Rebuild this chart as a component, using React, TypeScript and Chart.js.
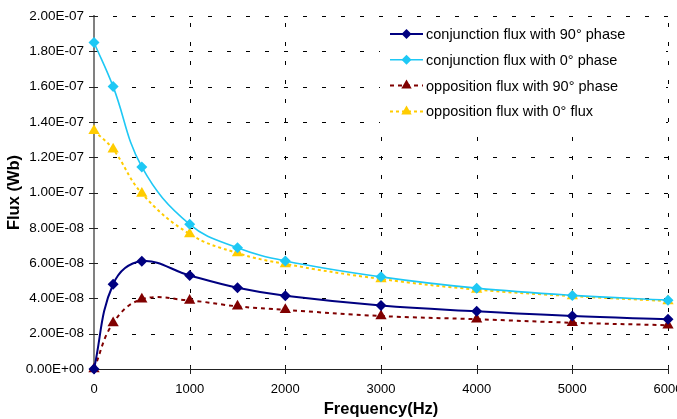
import React, { useEffect, useRef } from 'react';
import { Chart, registerables } from 'chart.js';

Chart.register(...registerables);

const frequencies = [0, 200, 500, 1000, 1500, 2000, 3000, 4000, 5000, 6000];
const conj90 = [0, 4.8e-8, 6.1e-8, 5.3e-8, 4.6e-8, 4.15e-8, 3.6e-8, 3.27e-8, 3.0e-8, 2.82e-8];
const conj0 = [1.85e-7, 1.6e-7, 1.145e-7, 8.2e-8, 6.87e-8, 6.12e-8, 5.22e-8, 4.58e-8, 4.17e-8, 3.9e-8];
const opp90 = [0, 2.6e-8, 3.95e-8, 3.88e-8, 3.55e-8, 3.35e-8, 3.0e-8, 2.82e-8, 2.62e-8, 2.48e-8];
const opp0 = [1.35e-7, 1.245e-7, 9.95e-8, 7.65e-8, 6.57e-8, 5.95e-8, 5.1e-8, 4.5e-8, 4.13e-8, 3.85e-8];

const seriesLabels = [
  'conjunction flux with 90° phase',
  'conjunction flux with 0° phase',
  'opposition flux with 90° phase',
  'opposition flux with 0° flux',
];
const xTicks = [0, 1000, 2000, 3000, 4000, 5000, 6000];
const yTicks = [0, 2e-8, 4e-8, 6e-8, 8e-8, 1e-7, 1.2e-7, 1.4e-7, 1.6e-7, 1.8e-7, 2e-7];
const xTitle = 'Frequency(Hz)';
const yTitle = 'Flux (Wb)';

const FONT = '"Liberation Sans", Arial, sans-serif';

function fmtExp(v: number): string {
  if (Math.abs(v) < 1e-15) return '0.00E+00';
  const [m, e] = v.toExponential(2).split('e');
  const n = parseInt(e, 10);
  return m + 'E' + (n < 0 ? '-' : '+') + String(Math.abs(n)).padStart(2, '0');
}

function drawMarker(ctx: CanvasRenderingContext2D, style: string, x: number, y: number, color: string) {
  ctx.beginPath();
  if (style === 'rectRot') {
    const r = 5;
    ctx.moveTo(x, y - r);
    ctx.lineTo(x + r, y);
    ctx.lineTo(x, y + r);
    ctx.lineTo(x - r, y);
  } else {
    const r = 6;
    const s = r * Math.sin(Math.PI / 3);
    ctx.moveTo(x, y - r);
    ctx.lineTo(x + s, y + r / 2);
    ctx.lineTo(x - s, y + r / 2);
  }
  ctx.closePath();
  ctx.fillStyle = color;
  ctx.fill();
}

// dashed grid + crossing tick marks, positioned through the chart's own scales
const dashedGrid = {
  id: 'dashedGrid',
  beforeDatasetsDraw(chart: any) {
    const ctx: CanvasRenderingContext2D = chart.ctx;
    const a = chart.chartArea;
    const xs = chart.scales.x;
    const ys = chart.scales.y;
    ctx.save();
    ctx.lineWidth = 1;
    ctx.strokeStyle = '#000';
    ctx.setLineDash([4, 15]);
    xs.ticks.forEach((t: any) => {
      const px = Math.round(xs.getPixelForValue(t.value)) + 0.5;
      if (px <= a.left + 2) return;
      ctx.beginPath();
      ctx.moveTo(px, a.bottom);
      ctx.lineTo(px, a.top);
      ctx.stroke();
    });
    ys.ticks.forEach((t: any) => {
      const py = Math.round(ys.getPixelForValue(t.value)) + 0.5;
      if (py >= a.bottom - 2) return;
      ctx.beginPath();
      ctx.moveTo(a.left, py);
      ctx.lineTo(a.right, py);
      ctx.stroke();
    });
    ctx.setLineDash([]);
    ctx.strokeStyle = '#222';
    xs.ticks.forEach((t: any) => {
      const px = Math.round(xs.getPixelForValue(t.value)) + 0.5;
      ctx.beginPath();
      ctx.moveTo(px, a.bottom - 3);
      ctx.lineTo(px, a.bottom + 5);
      ctx.stroke();
    });
    ys.ticks.forEach((t: any) => {
      const py = Math.round(ys.getPixelForValue(t.value)) + 0.5;
      ctx.beginPath();
      ctx.moveTo(a.left - 5, py);
      ctx.lineTo(a.left + 4, py);
      ctx.stroke();
    });
    ctx.restore();
  },
};

const insideLegend = {
  id: 'insideLegend',
  afterDraw(chart: any) {
    const ctx: CanvasRenderingContext2D = chart.ctx;
    const area = chart.chartArea;
    const boxX = area.right - 288;
    const boxY = area.top + 3;
    ctx.save();
    ctx.fillStyle = '#ffffff';
    ctx.fillRect(boxX, boxY, 286, 110);
    chart.data.datasets.forEach((ds: any, i: number) => {
      const y = boxY + 15 + i * 25.8;
      const x0 = boxX + 10;
      const x1 = boxX + 43;
      ctx.save();
      ctx.strokeStyle = ds.borderColor;
      ctx.lineWidth = ds.borderWidth;
      ctx.setLineDash(ds.borderDash || []);
      ctx.beginPath();
      ctx.moveTo(x0, y);
      ctx.lineTo(x1, y);
      ctx.stroke();
      ctx.restore();
      drawMarker(ctx, ds.pointStyle, (x0 + x1) / 2, y, ds.pointBackgroundColor);
      ctx.fillStyle = '#000';
      ctx.font = `14.5px ${FONT}`;
      ctx.textAlign = 'left';
      ctx.textBaseline = 'middle';
      ctx.fillText(ds.label, x1 + 3, y + 1);
    });
    ctx.restore();
  },
};

export default function App() {
  const ref = useRef<HTMLCanvasElement | null>(null);

  useEffect(() => {
    if (!ref.current) return;
    const mk = (data: number[]) => frequencies.map((f, i) => ({ x: f, y: data[i] }));
    const line = (label: string, data: number[], color: string, width: number, dash: number[] | undefined, style: string, radius: number) => ({
      label,
      data: mk(data),
      borderColor: color,
      backgroundColor: color,
      pointBackgroundColor: color,
      pointBorderColor: color,
      pointBorderWidth: 0,
      borderWidth: width,
      borderDash: dash,
      pointStyle: style,
      pointRadius: radius,
      tension: 0.4,
      clip: false,
    });
    const chart = new Chart(ref.current, {
      type: 'line',
      data: {
        datasets: [
          line(seriesLabels[0], conj90, '#000080', 2, undefined, 'rectRot', 5.5),
          line(seriesLabels[1], conj0, '#1ec8f5', 1.6, undefined, 'rectRot', 5.5),
          line(seriesLabels[2], opp90, '#800000', 2, [4, 4], 'triangle', 6.5),
          line(seriesLabels[3], opp0, '#ffcc00', 2, [3, 3], 'triangle', 6.5),
        ],
      },
      options: {
        animation: false,
        responsive: false,
        maintainAspectRatio: false,
        layout: { padding: { top: 16, right: 9, left: 0, bottom: 0 } },
        plugins: {
          legend: { display: false },
          tooltip: { enabled: false },
        },
        scales: {
          x: {
            type: 'linear',
            min: 0,
            max: 6000,
            afterBuildTicks: (s: any) => {
              s.ticks = xTicks.map((v) => ({ value: v }));
            },
            afterFit: (s: any) => {
              s.height = 50;
              s.paddingLeft = 0;
              s.paddingRight = 0;
            },
            ticks: {
              color: '#000',
              font: { family: FONT, size: 13 },
              padding: 8,
              maxRotation: 0,
              autoSkip: false,
              callback: (v: any) => String(v),
            },
            grid: { display: false, drawTicks: true, tickLength: 5 },
            border: { display: true, color: '#222', width: 1 },
            title: {
              display: true,
              text: xTitle,
              color: '#000',
              font: { family: FONT, size: 16.5, weight: 'bold' },
              padding: { top: 0, bottom: 0 },
            },
          },
          y: {
            type: 'linear',
            min: 0,
            max: 2e-7,
            afterBuildTicks: (s: any) => {
              s.ticks = yTicks.map((v) => ({ value: v }));
            },
            afterFit: (s: any) => {
              s.width = 94;
              s.paddingTop = 0;
              s.paddingBottom = 0;
            },
            ticks: {
              color: '#000',
              font: { family: FONT, size: 13.5 },
              padding: 5,
              autoSkip: false,
              callback: (v: any) => fmtExp(Number(v)),
            },
            grid: { display: false, drawTicks: true, tickLength: 5 },
            border: { display: true, color: '#808080', width: 2 },
            title: {
              display: true,
              text: yTitle,
              color: '#000',
              font: { family: FONT, size: 16.5, weight: 'bold' },
              padding: { top: 5, bottom: 5 },
            },
          },
        },
      },
      plugins: [dashedGrid, insideLegend],
    } as any);
    return () => chart.destroy();
  }, []);

  return (
    <div style={{ position: 'absolute', left: 0, top: 0, width: 677, height: 419, background: '#fff' }}>
      <canvas ref={ref} width={677} height={419} />
    </div>
  );
}
